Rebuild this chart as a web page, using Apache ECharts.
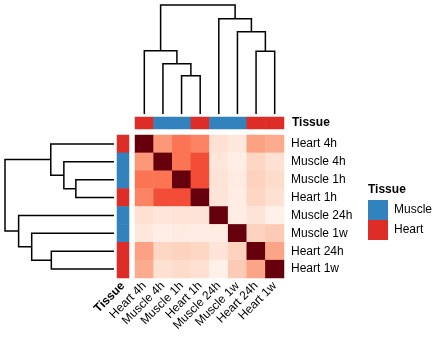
<!DOCTYPE html>
<html>
<head>
<meta charset="utf-8">
<script src="https://cdn.jsdelivr.net/npm/echarts@6/dist/echarts.min.js"></script>
<style>
  html, body { margin: 0; padding: 0; background: #fff; }
  #main { width: 440px; height: 350px; }
</style>
</head>
<body>
<div id="main"></div>
<script>
// samples in the clustered order
const samples = ['Heart 4h', 'Muscle 4h', 'Muscle 1h', 'Heart 1h', 'Muscle 24h', 'Muscle 1w', 'Heart 24h', 'Heart 1w'];
const tissue = ['Heart', 'Muscle', 'Muscle', 'Heart', 'Muscle', 'Muscle', 'Heart', 'Heart'];
const tissueLevels = ['Muscle', 'Heart'];
const tissueColors = ['#3182bd', '#de2d26'];

// similarity matrix (rows / cols in the order above)
const matrix = [
  [1.00, 0.36, 0.47, 0.42, 0.12, 0.08, 0.33, 0.30],
  [0.36, 1.00, 0.47, 0.58, 0.09, 0.04, 0.16, 0.12],
  [0.47, 0.47, 1.00, 0.58, 0.11, 0.06, 0.17, 0.14],
  [0.42, 0.58, 0.58, 1.00, 0.10, 0.05, 0.16, 0.12],
  [0.12, 0.09, 0.11, 0.10, 1.00, 0.05, 0.10, 0.03],
  [0.08, 0.04, 0.06, 0.05, 0.05, 1.00, 0.17, 0.20],
  [0.33, 0.16, 0.17, 0.16, 0.10, 0.17, 1.00, 0.32],
  [0.30, 0.12, 0.14, 0.12, 0.03, 0.20, 0.32, 1.00]
];

// hclust style merges: negative = leaf (1-based, display order), positive = earlier merge
const merges = [[-3, -4], [-2, 1], [-1, 2], [-7, -8], [-6, 4], [-5, 5], [3, 6]];
const mergeHeights = [0.35, 0.46, 0.58, 0.575, 0.755, 0.875, 1.0];

const reds = ['#fff5f0', '#fee0d2', '#fcbba1', '#fc9272', '#fb6a4a', '#ef3b2c', '#cb181d', '#a50f15', '#67000d'];

// build the dendrogram links: [xLeft, xRight, hLeft, hRight, h]
function dendroLinks() {
  var pos = [], links = [];
  function get(ref) {
    if (ref < 0) return { x: -ref - 0.5, h: 0 };
    return pos[ref - 1];
  }
  merges.forEach(function (m, i) {
    var a = get(m[0]), b = get(m[1]), h = mergeHeights[i];
    links.push([a.x, b.x, a.h, b.h, h]);
    pos.push({ x: (a.x + b.x) / 2, h: h });
  });
  return links;
}
const links = dendroLinks();

var heatData = [];
matrix.forEach(function (row, r) {
  row.forEach(function (v, c) { heatData.push([c, r, v]); });
});
var topAnno = tissue.map(function (t, i) { return [i, 0, tissueLevels.indexOf(t)]; });
var leftAnno = tissue.map(function (t, i) { return [0, i, tissueLevels.indexOf(t)]; });

function renderLink(vertical) {
  return function (params, api) {
    var xl = api.value(0), xr = api.value(1), hl = api.value(2), hr = api.value(3), h = api.value(4);
    var p = vertical
      ? [api.coord([xl, hl]), api.coord([xl, h]), api.coord([xr, h]), api.coord([xr, hr])]
      : [api.coord([hl, xl]), api.coord([h, xl]), api.coord([h, xr]), api.coord([hr, xr])];
    return {
      type: 'polyline',
      shape: { points: p },
      style: { stroke: '#000', lineWidth: 1.5, fill: null }
    };
  };
}

var labelFont = { fontSize: 12, color: '#000', fontFamily: 'Liberation Sans' };

var myChart = echarts.init(document.getElementById('main'));
var option = {
  animation: false,
  textStyle: { fontFamily: 'Liberation Sans' },
  title: {
    text: 'Tissue', left: 368, top: 184, padding: 0,
    textStyle: { fontSize: 12, fontWeight: 'bold', color: '#000', fontFamily: 'Liberation Sans' }
  },
  grid: [
    { left: 135, top: 135, width: 149, height: 143 },
    { left: 135, top: 117, width: 149, height: 12 },
    { left: 117, top: 135, width: 12, height: 143 },
    { left: 135, top: 5, width: 149, height: 109 },
    { left: 5, top: 135, width: 109, height: 143 }
  ],
  xAxis: [
    {
      gridIndex: 0, type: 'category', data: samples, position: 'bottom',
      axisLine: { show: false }, axisTick: { show: false }, splitLine: { show: false },
      axisLabel: Object.assign({ rotate: 45, margin: 6, interval: 0 }, labelFont)
    },
    { gridIndex: 1, type: 'category', data: samples, show: false },
    {
      gridIndex: 2, type: 'category', data: ['Tissue'], position: 'bottom',
      axisLine: { show: false }, axisTick: { show: false },
      axisLabel: Object.assign({ rotate: 45, margin: 6, fontWeight: 'bold' }, labelFont)
    },
    { gridIndex: 3, type: 'value', min: 0, max: 8, show: false },
    { gridIndex: 4, type: 'value', min: 0, max: 1, inverse: true, show: false }
  ],
  yAxis: [
    {
      gridIndex: 0, type: 'category', data: samples, inverse: true, position: 'right',
      axisLine: { show: false }, axisTick: { show: false }, splitLine: { show: false },
      axisLabel: Object.assign({ margin: 7, interval: 0 }, labelFont)
    },
    {
      gridIndex: 1, type: 'category', data: ['Tissue'], position: 'right',
      axisLine: { show: false }, axisTick: { show: false },
      axisLabel: Object.assign({ margin: 8, fontWeight: 'bold' }, labelFont)
    },
    { gridIndex: 2, type: 'category', data: samples, inverse: true, show: false },
    { gridIndex: 3, type: 'value', min: 0, max: 1, show: false },
    { gridIndex: 4, type: 'value', min: 0, max: 8, inverse: true, show: false }
  ],
  visualMap: [
    {
      type: 'continuous', show: false, seriesIndex: 0, dimension: 2,
      min: 0, max: 1, inRange: { color: reds }
    },
    {
      type: 'piecewise', seriesIndex: [1, 2], dimension: 2,
      left: 368, top: 200, padding: 0, orient: 'vertical', inverse: true, align: 'left',
      itemWidth: 20, itemHeight: 20, itemGap: 0, itemSymbol: 'rect', textGap: 6,
      textStyle: { fontSize: 12, color: '#000', fontFamily: 'Liberation Sans' },
      pieces: tissueLevels.map(function (t, i) {
        return { value: i, label: t, color: tissueColors[i] };
      })
    }
  ],
  series: [
    { type: 'heatmap', xAxisIndex: 0, yAxisIndex: 0, data: heatData },
    { type: 'heatmap', xAxisIndex: 1, yAxisIndex: 1, data: topAnno },
    { type: 'heatmap', xAxisIndex: 2, yAxisIndex: 2, data: leftAnno },
    { type: 'custom', xAxisIndex: 3, yAxisIndex: 3, data: links, renderItem: renderLink(true), silent: true },
    { type: 'custom', xAxisIndex: 4, yAxisIndex: 4, data: links, renderItem: renderLink(false), silent: true }
  ]
};
myChart.setOption(option);
</script>
</body>
</html>
